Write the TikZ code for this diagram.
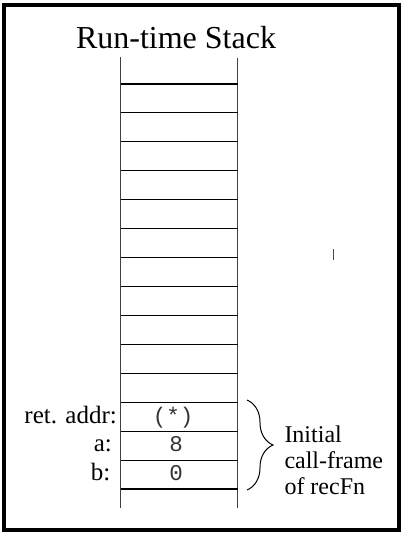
\documentclass[tikz,border=0pt]{standalone}
\usepackage{fontspec}
\setmainfont{Liberation Serif}
\newfontfamily\cellfont{Liberation Mono}
\usetikzlibrary{decorations.pathreplacing}

\begin{document}
\begin{tikzpicture}[x=1pt,y=-1pt,
  frame/.style={line width=4pt,draw=black},
  rail/.style={line width=1.5pt,draw=black!75},
  rung/.style={line width=1.1pt,draw=black},
  lbl/.style={inner sep=0pt,font=\fontsize{25}{27}\selectfont,anchor=base east},
  note/.style={inner sep=0pt,font=\fontsize{24}{26}\selectfont,anchor=base west},
  cell/.style={inner sep=0pt,font=\cellfont\fontsize{22.5}{24}\selectfont,anchor=base,text=black!80},
  bracestyle/.style={decorate,decoration={brace,amplitude=26pt},line width=1pt}]
  \useasboundingbox (0,0) rectangle (404,534);

  % outer frame
  \draw[frame] (4,5) rectangle (398.5,530);

  % title
  \node[inner sep=0pt,anchor=base,font=\fontsize{32}{34}\selectfont] (title) at (176,48.3) {Run-time Stack};

  % stack rails
  \coordinate (railLT) at (120.5,57);
  \coordinate (railLB) at (120.5,508);
  \coordinate (railRT) at (237.5,58);
  \coordinate (railRB) at (237.5,508);
  \draw[rail] (railLT) -- (railLB);
  \draw[rail] (railRT) -- (railRB);

  % stack slots
  \foreach \i in {0,...,14} {
    \pgfmathsetmacro{\yy}{84+\i*28.93}
    \coordinate (slotL\i) at (120.5,\yy);
    \coordinate (slotR\i) at (237.5,\yy);
    \draw[rung] (slotL\i) -- (slotR\i);
  }

  % contents of the initial call-frame
  \node[cell] (retval) at (173,423.3) {(*)};
  \node[cell] (aval) at (176,451.7) {8};
  \node[cell] (bval) at (176,480) {0};

  % field labels
  \node[lbl] (retlbl) at (117,423.3) {ret. addr:};
  \node[lbl] (albl) at (112,451.7) {a:};
  \node[lbl] (blbl) at (110.5,480) {b:};

  % brace around the frame
  \coordinate (braceTop) at (247,400);
  \coordinate (braceBot) at (247,490);
  \draw[bracestyle] (braceTop) -- (braceBot);

  \node[note] (noteA) at (284.3,442.7) {Initial};
  \node[note] (noteB) at (284.3,468.3) {call-frame};
  \node[note] (noteC) at (284.3,494) {of recFn};

  % small tick mark
  \coordinate (tickTop) at (333.3,249);
  \coordinate (tickBot) at (333.3,259.5);
  \draw[line width=1.3pt,draw=black!70] (tickTop) -- (tickBot);
\end{tikzpicture}
\end{document}
